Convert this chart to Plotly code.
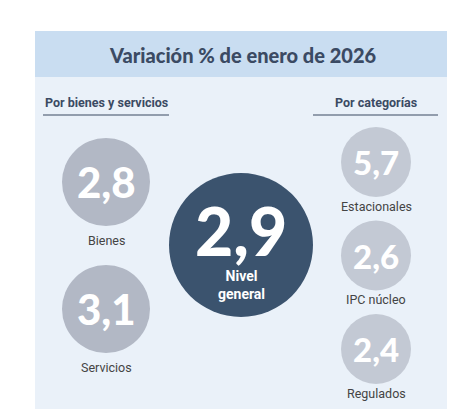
import plotly.graph_objects as go

title = "Variación % de enero de 2026"
general_value = 2.9
general_label = "Nivel<br>general"
group_left = "Por bienes y servicios"
group_right = "Por categorías"
left_labels = ["Bienes", "Servicios"]
left_values = [2.8, 3.1]
right_labels = ["Estacionales", "IPC núcleo", "Regulados"]
right_values = [5.7, 2.6, 2.4]

W, H = 458, 419
OFF = 8  # page body margin
NUM_FONT = "Lato"
LAB_FONT = "Roboto"
DARK = "#3b4a63"


def fmt(v):
    return f"{v:.1f}".replace(".", ",")


fig = go.Figure()
shapes = [
    dict(type="rect", x0=35, x1=447, y0=31, y1=409, fillcolor="#eaf1f9", line_width=0, layer="below"),
    dict(type="rect", x0=35, x1=447, y0=31, y1=77, fillcolor="#c9ddf1", line_width=0, layer="below"),
    dict(type="line", x0=43, x1=169, y0=115, y1=115, line=dict(color=DARK, width=1.2)),
    dict(type="line", x0=313, x1=438, y0=115, y1=115, line=dict(color=DARK, width=1.2)),
]
ann = [
    dict(x=242, y=55, text=title, font=dict(family=NUM_FONT, size=20, color=DARK, weight=900)),
    dict(x=43, y=102, text=f"<b>{group_left}</b>", xanchor="left",
         font=dict(family=LAB_FONT, size=12.5, color=DARK)),
    dict(x=376, y=102, text=f"<b>{group_right}</b>", font=dict(family=LAB_FONT, size=12.5, color=DARK)),
]


def bubble(cx, cy, r, color, value, size):
    shapes.append(dict(type="circle", x0=cx - r, x1=cx + r, y0=cy - r, y1=cy + r,
                       fillcolor=color, line_width=0))
    ann.append(dict(x=cx, y=cy, text=fmt(value),
                    font=dict(family=NUM_FONT, size=size, color="white", weight=900)))


for i, (lab, v) in enumerate(zip(left_labels, left_values)):
    cy = 182 + i * 127
    bubble(106, cy, 44, "#b2b8c5", v, 42)
    ann.append(dict(x=106, y=cy + 58, text=lab, font=dict(family=LAB_FONT, size=12.5, color="#444")))

for i, (lab, v) in enumerate(zip(right_labels, right_values)):
    cy = 162 + i * 93.5
    bubble(376, cy, 35, "#c3c9d4", v, 33)
    ann.append(dict(x=376, y=cy + 44, text=lab, font=dict(family=LAB_FONT, size=12.5, color="#444")))

bubble(241, 245, 72, "#3b536e", general_value, 66)
ann[-1]["y"] = 230
ann.append(dict(x=241, y=285, text=f"<b>{general_label}</b>",
                font=dict(family=LAB_FONT, size=14, color="white")))

for a in ann:
    a.update(xref="x", yref="y", showarrow=False)

fig.update_layout(
    width=W, height=H, margin=dict(l=0, r=0, t=0, b=0),
    paper_bgcolor="white", plot_bgcolor="white",
    xaxis=dict(range=[OFF, W + OFF], visible=False, fixedrange=True),
    yaxis=dict(range=[H + OFF, OFF], visible=False, fixedrange=True),
    shapes=shapes, annotations=ann, showlegend=False,
)
fig.write_html("out.html", config={"displayModeBar": False})
